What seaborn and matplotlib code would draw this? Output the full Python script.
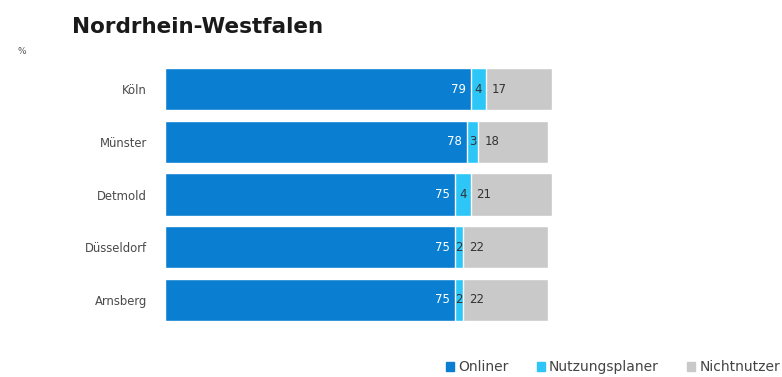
import matplotlib
matplotlib.use("Agg")
import matplotlib.pyplot as plt
import seaborn as sns
import pandas as pd
import numpy as np

regions = ["Köln", "Münster", "Detmold", "Düsseldorf", "Arnsberg"]
onliner = [79, 78, 75, 75, 75]
nutzungsplaner = [4, 3, 4, 2, 2]
nichtnutzer = [17, 18, 21, 22, 22]

series_names = ["Onliner", "Nutzungsplaner", "Nichtnutzer"]
colors = {"Onliner": "#0a7fd1", "Nutzungsplaner": "#2ec6f6", "Nichtnutzer": "#c9c9c9"}

sns.set_theme(style="white")
plt.rcParams["font.family"] = ["DejaVu Sans"]

df = pd.DataFrame({
    "Region": regions,
    "Onliner": onliner,
    "Nutzungsplaner": nutzungsplaner,
    "Nichtnutzer": nichtnutzer,
})
df["cum1"] = df["Onliner"]
df["cum2"] = df["Onliner"] + df["Nutzungsplaner"]
df["cum3"] = df["cum2"] + df["Nichtnutzer"]

fig = plt.figure(figsize=(7.82, 3.77), dpi=100)
ax = fig.add_axes([165 / 782, 1 - 326.3 / 377, (552 - 165) / 782, (326.3 - 62.7) / 377])

# stacked bars drawn back to front as cumulative totals
for col, name in [("cum3", "Nichtnutzer"), ("cum2", "Nutzungsplaner"), ("cum1", "Onliner")]:
    sns.barplot(data=df, x=col, y="Region", orient="h", color=colors[name],
                width=0.8, saturation=1, ax=ax)

ax.set_xlim(0, 100)
ax.set_ylim(4.5, -0.5)
ax.set_xlabel("")
ax.set_ylabel("")
ax.set_xticks([])
ax.tick_params(axis="y", length=0, pad=13, labelsize=8.4, labelcolor="#4a4a4a")
for s in ax.spines.values():
    s.set_visible(False)

# value labels
for i, row in df.iterrows():
    ax.text(row["cum1"] - 1.3, i, f"{row['Onliner']}", ha="right", va="center",
            color="white", fontsize=8.5)
    ax.text((row["cum1"] + row["cum2"]) / 2, i, f"{row['Nutzungsplaner']}", ha="center",
            va="center", color="#333333", fontsize=8.5)
    ax.text(row["cum2"] + 1.5, i, f"{row['Nichtnutzer']}", ha="left", va="center",
            color="#333333", fontsize=8.5)

fig.text(72 / 782, 1 - 33 / 377, "Nordrhein-Westfalen", fontsize=15.5, fontweight="bold",
         color="#1a1a1a", ha="left", va="baseline")
fig.text(18 / 782, 1 - 51 / 377, "%", fontsize=6.5, color="#555555", ha="left", va="center")

# legend
handles = [plt.Rectangle((0, 0), 1, 1, color=colors[n]) for n in series_names]
fig.legend(handles, series_names, loc="center right", bbox_to_anchor=(780 / 782, 1 - 367 / 377),
           ncol=3, frameon=False, fontsize=10, handlelength=0.6, handleheight=0.6,
           handletextpad=0.3, columnspacing=2.0, labelcolor="#444444",
           borderpad=0, borderaxespad=0)

fig.savefig("out.png", dpi=100)
